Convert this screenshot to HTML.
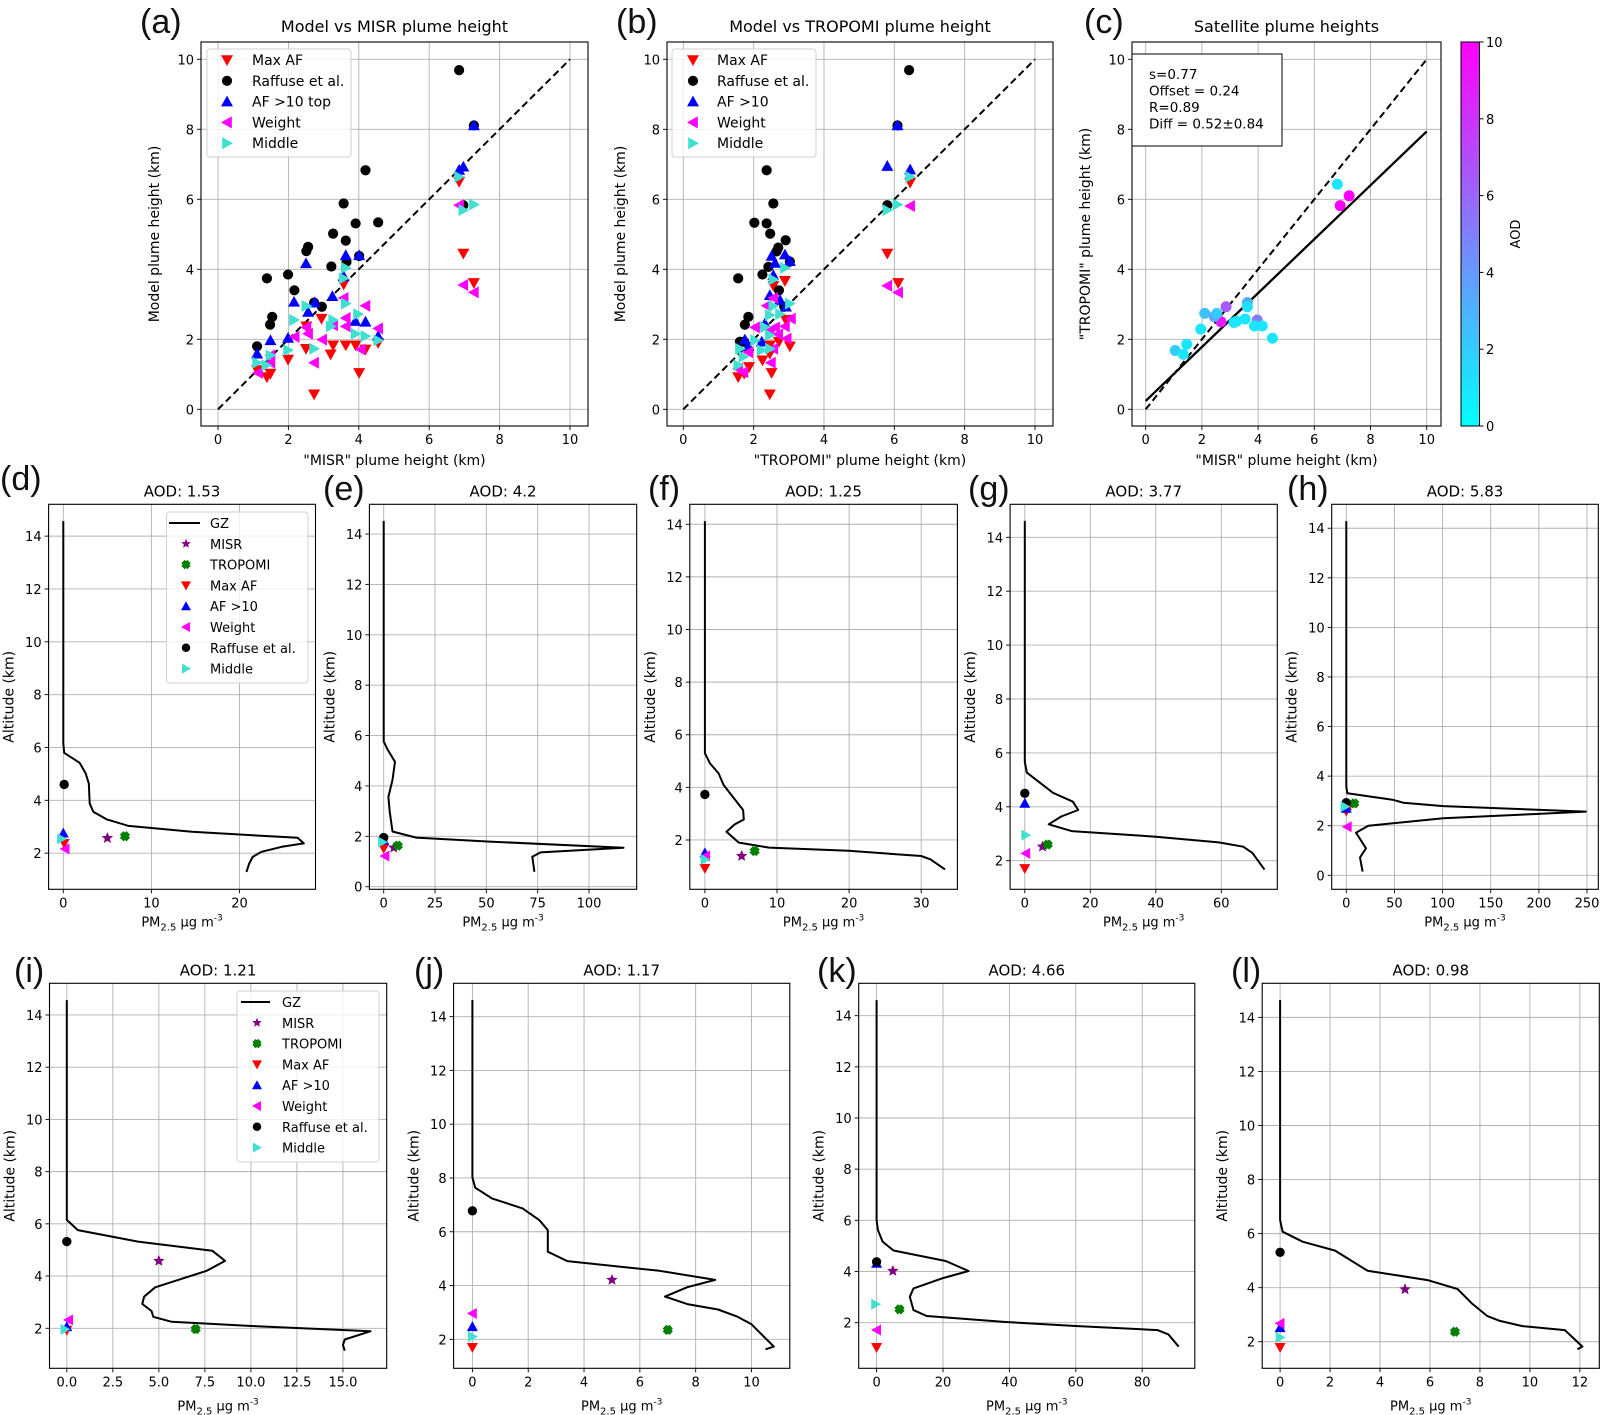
<!DOCTYPE html>
<html><head><meta charset="utf-8">
<style>
html,body{margin:0;padding:0;background:#fff;}
svg{display:block;font-family:"DejaVu Sans","Liberation Sans",sans-serif;}
</style></head>
<body>
<svg id="fig" xmlns="http://www.w3.org/2000/svg" width="1601" height="1415" viewBox="0 0 1601 1415">
<defs>
<linearGradient id="coolmap" x1="0" y1="1" x2="0" y2="0">
<stop offset="0" stop-color="#00ffff"/><stop offset="1" stop-color="#ff00ff"/>
</linearGradient>
</defs>
</svg>
<script>
// ===== Panel (a): Model vs MISR =====
const aMaxX=[6.85,6.97,7.27,3.57,2.94,2.51,2.50,3.27,3.63,3.91,4.19,3.20,1.99,4.01,2.73,1.39,1.49,1.11,4.55];
const aMaxY=[6.50,4.45,3.61,3.57,2.59,2.37,1.73,1.83,1.83,1.83,1.71,1.57,1.42,1.04,0.43,0.92,1.02,1.12,1.90];
const aRafX=[6.85,7.27,4.19,3.57,3.91,4.55,3.27,3.63,2.56,2.51,4.01,3.65,3.22,1.39,1.99,2.17,6.97,2.73,2.95,1.54,1.48,1.11];
const aRafY=[9.69,8.11,6.83,5.88,5.31,5.34,5.02,4.82,4.64,4.52,4.38,4.21,4.08,3.74,3.85,3.40,5.83,3.05,2.93,2.64,2.42,1.80];
const aAfX=[7.27,6.97,6.85,2.50,3.63,4.01,3.57,2.16,2.75,2.56,3.25,4.19,3.90,4.55,1.49,1.11,1.99];
const aAfY=[8.11,6.93,6.84,4.17,4.40,4.40,3.80,3.07,3.05,2.78,3.23,2.50,2.52,2.09,1.97,1.59,2.04];
const aWX=[6.85,6.97,7.27,3.57,4.19,3.63,4.55,3.27,3.63,2.51,2.56,2.96,2.18,4.06,2.73,1.49,1.14,1.49];
const aWY=[5.83,3.55,3.34,3.18,2.96,2.61,2.31,2.40,2.37,2.34,2.16,1.99,2.07,1.71,1.33,1.33,1.04,1.54];
const aMidX=[6.85,6.97,7.27,3.57,3.63,3.63,2.51,2.16,3.27,3.20,3.98,3.91,4.19,4.55,2.73,1.99,1.49,1.11,1.37];
const aMidY=[6.64,5.69,5.85,3.74,4.04,3.02,2.95,2.55,2.55,2.37,2.72,2.16,2.09,1.97,1.73,1.69,1.54,1.33,1.26];
// ===== Panel (b): Model vs TROPOMI =====
const bMaxX=[6.45,5.80,6.11,2.89,2.56,2.91,2.72,3.03,2.46,2.25,2.46,2.51,2.46,1.56,1.73,1.87];
const bMaxY=[6.48,4.45,3.61,3.67,3.53,2.56,1.93,1.80,1.83,1.40,1.59,1.04,0.43,0.92,1.02,1.21];
const bRafX=[6.42,6.09,2.37,2.56,2.02,2.37,2.47,2.91,2.70,2.65,2.42,3.03,1.56,2.25,2.72,5.80,1.85,1.75,1.61,1.73,2.87];
const bRafY=[9.69,8.11,6.83,5.88,5.33,5.31,5.02,4.83,4.62,4.51,4.07,4.22,3.74,3.85,3.40,5.83,2.64,2.42,1.93,1.93,2.93];
const bAfX=[6.09,5.80,6.45,2.51,2.89,2.61,3.03,2.56,2.46,2.75,2.92,2.32,1.75,2.23,1.85];
const bAfY=[8.11,6.95,6.85,4.38,4.42,4.18,4.23,3.83,3.26,3.12,2.93,2.45,1.99,1.93,1.80];
const bWX=[5.80,6.11,6.45,2.56,2.37,3.06,2.89,2.61,2.46,2.70,2.94,2.04,2.56,2.49,1.85,1.71,1.56];
const bWY=[3.53,3.34,5.81,3.18,2.96,2.59,2.37,2.34,2.26,2.14,2.02,2.34,1.73,1.33,1.63,1.06,1.16];
const bMidX=[6.45,6.09,5.80,2.56,2.89,3.03,2.56,2.46,2.75,2.32,2.46,2.04,2.23,2.46,1.61,1.71,1.56];
const bMidY=[6.64,5.85,5.69,3.71,4.04,3.02,2.95,2.69,2.72,2.35,2.12,1.97,1.69,1.73,1.73,1.50,1.26];
// ===== Panel (c): satellite heights =====
const cMisr=[6.82,6.92,7.24,2.86,2.68,2.10,2.44,2.53,1.96,1.05,1.34,1.46,3.62,3.62,3.14,3.24,3.54,3.97,3.87,4.15,4.51];
const cTropomi=[6.43,5.82,6.10,2.93,2.50,2.74,2.65,2.74,2.29,1.68,1.57,1.86,3.05,2.93,2.48,2.52,2.58,2.55,2.38,2.38,2.03];
const cAod=[1.0,10,10,6.5,9,2.5,3.5,2,1,2,1,1,3.5,1.2,1,1,1,5,1,1,1];
const cFit=[0.77,0.24];
const cStats=["s=0.77","Offset = 0.24","R=0.89","Diff = 0.52±0.84"];
const cbTicks=[0,2,4,6,8,10];
const scatterTicks=[0,2,4,6,8,10];

// ===== Profile panels: GZ profile (PM2.5, altitude) + markers =====
// marker order: MISR, TROPOMI, Max AF, AF >10, Weight, Raffuse et al., Middle
const dPM=[0,0,0.1,1.85,2.54,2.9,3.0,3.4,4.9,7.4,14.6,26.6,27.3,24.8,22.5,21.5,21.1,20.8];
const dAlt=[14.57,6.16,5.80,5.42,5.02,4.64,3.88,3.57,3.28,3.03,2.81,2.58,2.37,2.24,2.05,1.86,1.61,1.29];
const dMkX=[5.0,7.0,0.1,0,0.2,0.1,-0.2];
const dMkY=[2.57,2.64,2.37,2.76,2.16,4.60,2.54];
const ePM=[0,0,2.0,5.5,4.3,2.3,2.9,4.3,15.8,51.6,116.8,76.4,72.4,73.4];
const eAlt=[14.52,5.76,5.43,4.96,4.24,3.57,2.98,2.19,1.95,1.79,1.55,1.36,1.19,0.59];
const eMkX=[4.9,6.9,0,0,0.6,0,-0.6];
const eMkY=[1.55,1.63,1.52,1.85,1.22,1.95,1.77];
const fPM=[0,0,0.71,1.9,2.6,5.3,5.4,4.1,3.0,4.7,8.9,19.9,30.0,31.3,33.3];
const fAlt=[14.12,5.30,4.91,4.53,4.09,3.14,2.78,2.59,2.31,1.90,1.71,1.59,1.39,1.26,0.88];
const fMkX=[5.1,6.9,0,0,0.1,0,0];
const fMkY=[1.39,1.58,0.92,1.51,1.39,3.73,1.26];
const gPM=[0,0,0.6,8.6,14.7,16.3,11.1,7.3,14.3,40.0,59.2,66.7,69.5,73.2];
const gAlt=[14.61,5.67,5.27,4.52,4.19,3.88,3.64,3.35,3.10,2.89,2.68,2.52,2.29,1.67];
const gMkX=[5.4,7.0,0,0,0.3,0,0.3];
const gMkY=[2.52,2.60,1.71,4.13,2.27,4.50,2.95];
const hPM=[0,0,1,48.8,59.1,100.7,248.9,194.1,100.7,22.8,10.1,20.5,14.2,16.9];
const hAlt=[14.29,3.58,3.31,3.04,2.93,2.79,2.57,2.47,2.30,2.00,1.72,1.09,0.72,0.15];
const hMkX=[2,8.3,0,0,1,0,-1.4];
const hMkY=[2.8,2.90,2.59,2.7,1.96,2.93,2.77];
const iPM=[0,0.0,0.6,3.86,7.9,8.6,7.6,4.8,4.2,4.1,4.6,4.7,5.7,9.9,16.5,15.1,15.0,15.1];
const iAlt=[14.57,6.15,5.76,5.32,4.97,4.58,4.20,3.57,3.21,2.93,2.66,2.44,2.25,2.09,1.89,1.57,1.36,1.14];
const iMkX=[5.0,7.0,0,0,0.1,0,-0.1];
const iMkY=[4.58,1.97,1.93,2.06,2.32,5.32,1.96];
const jPM=[0,0,0.1,0.7,1.8,2.4,2.7,2.7,3.4,6.7,8.7,7.7,6.9,7.7,8.8,9.5,10.0,10.8,10.5];
const jAlt=[14.62,8.02,7.64,7.24,6.87,6.43,6.06,5.26,4.91,4.55,4.21,3.94,3.59,3.31,3.11,2.84,2.56,1.73,1.63];
const jMkX=[5.0,7.0,0,0,0,0,0];
const jMkY=[4.21,2.35,1.70,2.47,2.96,6.78,2.10];
const kPM=[0,0,0.4,1.8,5.1,20.8,27.7,20.0,11.1,10.0,11.1,15.1,38.4,59.9,84.6,87.9,91.0];
const kAlt=[14.61,6.01,5.62,5.17,4.82,4.41,4.02,3.74,3.34,3.01,2.49,2.26,2.03,1.87,1.71,1.54,1.06];
const kMkX=[4.9,6.9,0,0,0,0,-0.3];
const kMkY=[4.02,2.52,1.03,4.32,1.71,4.38,2.72];
const lPM=[0,0,0.1,0.9,2.2,3.5,5.9,7.1,7.7,8.3,8.8,9.7,11.4,12.1,11.9];
const lAlt=[14.64,6.50,6.07,5.70,5.37,4.63,4.28,3.95,3.40,2.95,2.77,2.58,2.43,1.82,1.72];
const lMkX=[5.0,7.0,0,0,0,0,0];
const lMkY=[3.94,2.37,1.79,2.52,2.68,5.31,2.16];

const NS="http://www.w3.org/2000/svg";
const svg=document.getElementById('fig');
let clipId=0;
function mk(tag,parent){const e=document.createElementNS(NS,tag);parent.appendChild(e);return e;}
function setA(e,o){for(const k in o)e.setAttribute(k,o[k]);return e;}
function txt(parent,x,y,s,size,anchor,extra){const t=mk('text',parent);setA(t,{x:x,y:y,'font-size':size,'text-anchor':anchor||'middle',fill:'#000'});if(extra)setA(t,extra);t.textContent=s;return t;}

function makeAxes(name,box,xd,yd,xticks,yticks,xfmt,fs){
  const g=mk('g',svg);
  
  
  const sx=v=>box.l+(v-xd[0])/(xd[1]-xd[0])*(box.r-box.l);
  const sy=v=>box.b-(v-yd[0])/(yd[1]-yd[0])*(box.b-box.t);
  const grid=mk('g',g);
  
  
  xticks.forEach(v=>{const x=sx(v);
    const l=mk('line',grid);setA(l,{x1:x,x2:x,y1:box.t,y2:box.b,stroke:'#b0b0b0','stroke-width':0.9});
    const tk=mk('line',g);setA(tk,{x1:x,x2:x,y1:box.b,y2:box.b+4,stroke:'#000','stroke-width':0.9});
    const t=txt(g,x,box.b+18,xfmt?xfmt(v):String(v),fs);
    
    
  });
  yticks.forEach(v=>{const y=sy(v);
    const l=mk('line',grid);setA(l,{x1:box.l,x2:box.r,y1:y,y2:y,stroke:'#b0b0b0','stroke-width':0.9});
    const tk=mk('line',g);setA(tk,{x1:box.l-4,x2:box.l,y1:y,y2:y,stroke:'#000','stroke-width':0.9});
    const t=txt(g,box.l-7,y+5,String(v),fs,'end');
    
    
  });
  clipId++;
  const cp=mk('clipPath',svg);cp.setAttribute('id','clip'+clipId);
  const cr=mk('rect',cp);setA(cr,{x:box.l,y:box.t,width:box.r-box.l,height:box.b-box.t});
  const plot=mk('g',g);plot.setAttribute('clip-path','url(#clip'+clipId+')');
  
  
  const frame=mk('rect',g);setA(frame,{x:box.l,y:box.t,width:box.r-box.l,height:box.b-box.t,fill:'none',stroke:'#000','stroke-width':1.1});
  
  
  return {g,sx,sy,plot,box};
}

function marker(parent,type,x,y,r,color){
  let e;
  if(type==='circle'){e=mk('circle',parent);setA(e,{cx:x,cy:y,r:r*0.85,fill:color});}
  else if(type==='down'){e=mk('polygon',parent);setA(e,{points:`${x-r},${y-r*0.8} ${x+r},${y-r*0.8} ${x},${y+r}`,fill:color});}
  else if(type==='up'){e=mk('polygon',parent);setA(e,{points:`${x-r},${y+r*0.8} ${x+r},${y+r*0.8} ${x},${y-r}`,fill:color});}
  else if(type==='left'){e=mk('polygon',parent);setA(e,{points:`${x+r*0.8},${y-r} ${x+r*0.8},${y+r} ${x-r},${y}`,fill:color});}
  else if(type==='right'){e=mk('polygon',parent);setA(e,{points:`${x-r*0.8},${y-r} ${x-r*0.8},${y+r} ${x+r},${y}`,fill:color});}
  else if(type==='star'){let p=[];for(let i=0;i<10;i++){const a=-Math.PI/2+i*Math.PI/5;const rr=i%2?r*0.45:r;p.push((x+rr*Math.cos(a)).toFixed(1)+','+(y+rr*Math.sin(a)).toFixed(1));}e=mk('polygon',parent);setA(e,{points:p.join(' '),fill:color});}
  else if(type==='x'){e=mk('path',parent);const q=r*0.6;setA(e,{d:`M${x-q},${y-q}L${x+q},${y+q}M${x-q},${y+q}L${x+q},${y-q}`,stroke:color,'stroke-width':r*0.95,'stroke-linecap':'butt'});}
  return e;
}

const SER=[
 {name:'Max AF',type:'down',color:'#ff0000'},
 {name:'Raffuse et al.',type:'circle',color:'#000000'},
 {name:'AF >10',type:'up',color:'#0000ff'},
 {name:'Weight',type:'left',color:'#ff00ff'},
 {name:'Middle',type:'right',color:'#40e0d0'}
];

function panelLabel(s,x,y){const t=txt(svg,x,y,s,34,'start',{'font-family':'"Liberation Sans",sans-serif',fill:'#111'});
  
  }
function title(s,ax,y,size){const t=txt(svg,(ax.box.l+ax.box.r)/2,y,s,size||16);
  
  }
function ylabel(s,x,y,size){const t=txt(svg,x,y,s,size||14,'middle',{transform:`rotate(-90 ${x} ${y})`});
  
  }
function xlabel(s,ax,y,size){const t=txt(svg,(ax.box.l+ax.box.r)/2,y,s,size||14);
  
  }

// ---------- Scatter panels ----------
function scatterPanel(name,box,x0,ppk,data,legendBox,legendLabels){
  const ax=makeAxes(name,box,[(box.l-x0)/ppk,(box.r-x0)/ppk],[(409.3-box.b)/35,(409.3-box.t)/35],scatterTicks,scatterTicks,null,13);
  const dl=mk('line',ax.plot);setA(dl,{x1:ax.sx(0),y1:ax.sy(0),x2:ax.sx(10),y2:ax.sy(10),stroke:'#000','stroke-width':2,'stroke-dasharray':'7,4'});
  
  
  data.forEach((d,si)=>{const s=SER[si];
    const sg=mk('g',ax.plot);
    
    
    d[0].forEach((xv,i)=>{const m=marker(sg,s.type,ax.sx(xv),ax.sy(d[1][i]),6,s.color);
      
      });
  });
  const lg=mk('g',svg);
  
  
  const lr=mk('rect',lg);setA(lr,{x:legendBox.x,y:legendBox.y,width:legendBox.w,height:legendBox.h,rx:3,fill:'#fff','fill-opacity':0.8,stroke:'#d0d0d0'});
  legendLabels.forEach((lab,i)=>{const yy=legendBox.y+11+i*20.8;
    const m=marker(lg,SER[i].type,legendBox.mx,yy,6,SER[i].color);
    
    
    const t=txt(lg,legendBox.tx,yy+5,lab,14,'start');
    
    });
  return ax;
}

const axA=scatterPanel('panel-a',{l:201,r:588,t:42,b:426},218,35.2,
  [[aMaxX,aMaxY],[aRafX,aRafY],[aAfX,aAfY],[aWX,aWY],[aMidX,aMidY]],
  {x:207,y:49,w:144,h:108,mx:227,tx:252},['Max AF','Raffuse et al.','AF >10 top','Weight','Middle']);
title('Model vs MISR plume height',axA,32);
xlabel('"MISR" plume height (km)',axA,465);
ylabel('Model plume height (km)',159,234);
panelLabel('(a)',140,33);

const axB=scatterPanel('panel-b',{l:667,r:1053,t:42,b:426},683.3,35.17,
  [[bMaxX,bMaxY],[bRafX,bRafY],[bAfX,bAfY],[bWX,bWY],[bMidX,bMidY]],
  {x:672,y:49,w:144,h:108,mx:693,tx:717},['Max AF','Raffuse et al.','AF >10','Weight','Middle']);
title('Model vs TROPOMI plume height',axB,32);
xlabel('"TROPOMI" plume height (km)',axB,465);
ylabel('Model plume height (km)',625,234);
panelLabel('(b)',616,33);

// Panel c
const axC=makeAxes('panel-c',{l:1132,r:1441,t:42,b:426},[(1132-1145.7)/28.1,(1441-1145.7)/28.1],[(409.3-426)/35,(409.3-42)/35],scatterTicks,scatterTicks,null,13);
{
  const dl=mk('line',axC.plot);setA(dl,{x1:axC.sx(0),y1:axC.sy(0),x2:axC.sx(10),y2:axC.sy(10),stroke:'#000','stroke-width':2,'stroke-dasharray':'7,4'});
  
  
  const fl=mk('line',axC.plot);setA(fl,{x1:axC.sx(0),y1:axC.sy(cFit[1]),x2:axC.sx(10),y2:axC.sy(cFit[1]+cFit[0]*10),stroke:'#000','stroke-width':2.3});
  
  
  cMisr.forEach((xv,i)=>{const t=Math.max(0,Math.min(1,cAod[i]/10));
    const c=mk('circle',axC.plot);setA(c,{cx:axC.sx(xv),cy:axC.sy(cTropomi[i]),r:5.5,fill:`rgb(${Math.round(255*t)},${Math.round(255*(1-t))},255)`});
    
    });
  const sb=mk('g',svg);
  
  
  const r=mk('rect',sb);setA(r,{x:1132,y:54,width:150,height:92,fill:'#fff',stroke:'#000','stroke-width':1});
  cStats.forEach((s,i)=>{const t=txt(sb,1149,79+i*16.5,s,13.5,'start');
    
    });
  const cb=mk('g',svg);
  
  
  const cr=mk('rect',cb);setA(cr,{x:1461,y:42,width:18.5,height:384,fill:'url(#coolmap)',stroke:'#000','stroke-width':1});
  cbTicks.forEach(v=>{const y=426-v/10*384;
    const l=mk('line',cb);setA(l,{x1:1479.5,x2:1483.5,y1:y,y2:y,stroke:'#000'});
    const t=txt(cb,1486,y+5,String(v),13,'start');
    
    });
  ylabel('AOD',1520,234,13);
}
title('Satellite plume heights',axC,32);
xlabel('"MISR" plume height (km)',axC,465);
ylabel('"TROPOMI" plume height (km)',1090,234);
panelLabel('(c)',1084,33);

// ---------- Profile panels ----------
const PSER=[
 {name:'MISR',type:'star',color:'#800080'},
 {name:'TROPOMI',type:'x',color:'#008000'},
 {name:'Max AF',type:'down',color:'#ff0000'},
 {name:'AF >10',type:'up',color:'#0000ff'},
 {name:'Weight',type:'left',color:'#ff00ff'},
 {name:'Raffuse et al.',type:'circle',color:'#000000'},
 {name:'Middle',type:'right',color:'#40e0d0'}
];
function pm(ax,y){const t=txt(svg,(ax.box.l+ax.box.r)/2,y,'',13);
  
  
  const a=mk('tspan',t);a.textContent='PM';
  const b=mk('tspan',t);setA(b,{'font-size':10,dy:4});b.textContent='2.5';
  const c=mk('tspan',t);setA(c,{dy:-4});c.textContent=' μg m';
  const d=mk('tspan',t);setA(d,{'font-size':9,dy:-6});d.textContent='-3';}

function profilePanel(id,box,x0px,xppu,y0px,yppk,xticks,yticks,xfmt,PMs,Alts,mx,my,aod,lbl,lblX,lblY,legend,xlOff){
  const ax=makeAxes('panel-'+id,box,[(box.l-x0px)/xppu,(box.r-x0px)/xppu],[(y0px-box.b)/yppk,(y0px-box.t)/yppk],xticks,yticks,xfmt,13);
  const p=mk('polyline',ax.plot);
  setA(p,{points:PMs.map((v,i)=>ax.sx(v).toFixed(1)+','+ax.sy(Alts[i]).toFixed(1)).join(' '),fill:'none',stroke:'#000','stroke-width':2,'stroke-linejoin':'round'});
  
  
  PSER.forEach((s,i)=>{const m=marker(ax.plot,s.type,ax.sx(mx[i]),ax.sy(my[i]),s.type==='x'?5.5:(s.type==='star'?6:5.5),s.color);
    
    });
  title('AOD: '+aod,ax,box.t-8,15);
  pm(ax,box.b+37+(xlOff||0));
  ylabel('Altitude (km)',box.l-35,(box.t+box.b)/2,14);
  panelLabel(lbl,lblX,lblY);
  if(legend){
    const lg=mk('g',svg);
    
    
    const lr=mk('rect',lg);setA(lr,{x:legend.x,y:legend.y,width:legend.w,height:legend.h,rx:3,fill:'#fff','fill-opacity':0.8,stroke:'#d0d0d0'});
    const names=['GZ'].concat(PSER.map(s=>s.name));
    names.forEach((n,i)=>{const yy=legend.y+11+i*20.8;
      if(i===0){const l=mk('line',lg);setA(l,{x1:legend.lx1,x2:legend.lx2,y1:yy,y2:yy,stroke:'#000','stroke-width':2});
        
        }
      else{const s=PSER[i-1];const m=marker(lg,s.type,legend.mx,yy,s.type==='x'?5:5,s.color);
        
        }
      const t=txt(lg,legend.tx,yy+5,n,13,'start');
      
      });
  }
}
const R2={t:504.3,b:889.3}, R3={t:983.3,b:1368.3};
const f1=v=>v.toFixed(1);
profilePanel('d',{l:48.6,r:315.5,t:R2.t,b:R2.b},63.3,8.81,906,26.42,[0,10,20],[2,4,6,8,10,12,14],null,dPM,dAlt,dMkX,dMkY,'1.53','(d)',0,490,{x:166.5,y:512,w:141.5,h:171,lx1:169,lx2:200,mx:186,tx:210},0);
profilePanel('e',{l:369.4,r:636.7,t:R2.t,b:R2.b},383.7,2.053,886.7,25.19,[0,25,50,75,100],[0,2,4,6,8,10,12,14],null,ePM,eAlt,eMkX,eMkY,'4.2','(e)',323,500,null,0);
profilePanel('f',{l:689.8,r:957.4,t:R2.t,b:R2.b},704.9,7.21,892.6,26.31,[0,10,20,30],[2,4,6,8,10,12,14],null,fPM,fAlt,fMkX,fMkY,'1.25','(f)',648,500,null,0);
profilePanel('g',{l:1010.1,r:1277.3,t:R2.t,b:R2.b},1024.8,3.275,914.6,26.95,[0,20,40,60],[2,4,6,8,10,12,14],null,gPM,gAlt,gMkX,gMkY,'3.77','(g)',968,500,null,0);
profilePanel('h',{l:1331.7,r:1598.3,t:R2.t,b:R2.b},1346.3,0.9628,875.3,24.79,[0,50,100,150,200,250],[0,2,4,6,8,10,12,14],null,hPM,hAlt,hMkX,hMkY,'5.83','(h)',1287,500,null,0);
profilePanel('i',{l:49.5,r:386.7,t:R3.t,b:R3.b},66.8,18.41,1380.5,26.11,[0,2.5,5,7.5,10,12.5,15],[2,4,6,8,10,12,14],f1,iPM,iAlt,iMkX,iMkY,'1.21','(i)',14,982,{x:237,y:991,w:142,h:171,lx1:241,lx2:270,mx:257,tx:282},5);
profilePanel('j',{l:453.6,r:789.8,t:R3.t,b:R3.b},472.4,27.91,1393.1,26.89,[0,2,4,6,8,10],[2,4,6,8,10,12,14],null,jPM,jAlt,jMkX,jMkY,'1.17','(j)',414,982,null,5);
profilePanel('k',{l:858.7,r:1194.8,t:R3.t,b:R3.b},876.6,3.32,1373.8,25.58,[0,20,40,60,80],[2,4,6,8,10,12,14],null,kPM,kAlt,kMkX,kMkY,'4.66','(k)',817,982,null,5);
profilePanel('l',{l:1262.2,r:1599.3,t:R3.t,b:R3.b},1280.1,24.98,1395.8,27.03,[0,2,4,6,8,10,12],[2,4,6,8,10,12,14],null,lPM,lAlt,lMkX,lMkY,'0.98','(l)',1231,982,null,5);
</script>
</body></html>
